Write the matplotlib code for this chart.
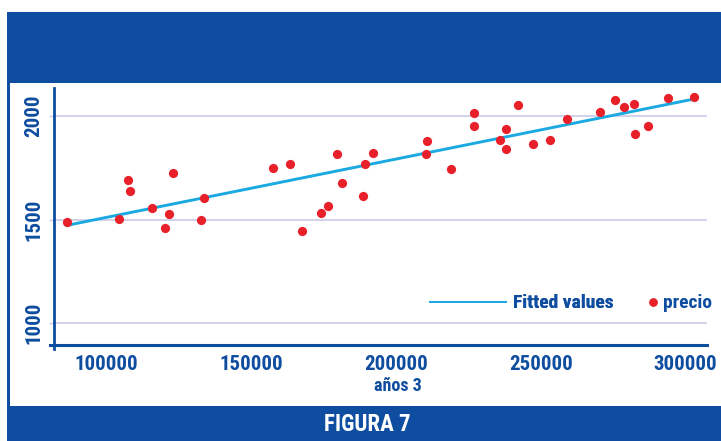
import matplotlib
matplotlib.use('Agg')
import matplotlib.pyplot as plt
from matplotlib.lines import Line2D
from matplotlib.patches import Rectangle

# scatter data
anos3 = [86250, 104420, 107530, 108220, 115720, 121590, 120310, 122970, 132540, 133570,
         157510, 163380, 167530, 173990, 176510, 179720, 181240, 188490, 189290, 191950,
         210600, 210460, 219100, 226830, 226830, 235920, 237890, 238090, 242240, 247210,
         253290, 259160, 270460, 275740, 278640, 282200, 282550, 287040, 294050, 303030]
precio = [1487, 1505, 1692, 1638, 1558, 1527, 1459, 1725, 1497, 1602,
          1747, 1771, 1447, 1530, 1564, 1817, 1679, 1613, 1771, 1824,
          1882, 1817, 1745, 2016, 1951, 1887, 1937, 1839, 2053, 1863,
          1883, 1986, 2019, 2078, 2046, 2061, 1913, 1951, 2090, 2093]
fit_x = [86250, 303030]
fit_y = [1472, 2083]
xticks = [100000, 150000, 200000, 250000, 300000]
yticks = [1000, 1500, 2000]

blue = '#0E4D9F'
red = '#E8202A'
cyan = '#1BA9E1'
grid = '#C9CBE6'
plt.rcParams['font.family'] = ['Roboto Condensed', 'Liberation Sans', 'DejaVu Sans']
plt.rcParams['font.weight'] = 'bold'

W, H = 721, 441
fig = plt.figure(figsize=(W / 100, H / 100), dpi=100)

def px(x0, y0, x1, y1):
    return (x0 / W, 1 - y1 / H, (x1 - x0) / W, (y1 - y0) / H)

# frame bands
for x0, y0, x1, y1 in [(7, 12, 721, 83), (7, 406, 721, 441), (7, 12, 10, 441)]:
    l, b, w, h = px(x0, y0, x1, y1)
    fig.patches.append(Rectangle((l, b), w, h, transform=fig.transFigure,
                                 color=blue, lw=0, zorder=0))
fig.text(367.5 / W, 1 - 424.5 / H, 'FIGURA 7', color='white', fontsize=16.5,
         fontweight='bold', ha='center', va='center')

ax = fig.add_axes(px(54.5, 88, 707, 345))
ax.set_xlim(82040, 307430)
ax.set_ylim(894, 2136)
for s in ax.spines.values():
    s.set_visible(False)
ax.add_line(Line2D([0, 0], [-0.016, 1], transform=ax.transAxes, color=blue, lw=2, clip_on=False))
ax.add_line(Line2D([-0.007, 1], [0, 0], transform=ax.transAxes, color=blue, lw=2.2, clip_on=False))

ax.set_xticks(xticks)
ax.set_yticks(yticks)
ax.set_xticklabels([str(v) for v in xticks])
ax.set_yticklabels([str(v) for v in yticks], rotation=90, va='center')
ax.tick_params(axis='x', length=0, pad=7.5, labelsize=15, labelcolor=blue)
ax.tick_params(axis='y', length=3.6, width=1, color=grid, pad=4.5, labelsize=15, labelcolor=blue)
ax.yaxis.grid(True, color=grid, lw=1.2)
ax.set_axisbelow(True)

ax.plot(fit_x, fit_y, color=cyan, lw=2.1, zorder=2)
ax.scatter(anos3, precio, s=44, color=red, lw=0, zorder=3)

fig.text(397.5 / W, 1 - 386 / H, 'años 3', color=blue, fontsize=13,
         fontweight='bold', ha='center', va='center')

leg1 = fig.legend(handles=[Line2D([], [], color=cyan, lw=1.3)], labels=['Fitted values'],
                  loc='center left', bbox_to_anchor=(430 / W, 1 - 303.5 / H),
                  frameon=False, fontsize=14, labelcolor=blue, handlelength=3.9,
                  handletextpad=0.35, borderpad=0, borderaxespad=0)
leg2 = fig.legend(handles=[Line2D([], [], ls='', marker='o', ms=6.3, color=red, mew=0)],
                  labels=['precio'], loc='center left',
                  bbox_to_anchor=(645 / W, 1 - 303.5 / H), frameon=False, fontsize=14,
                  labelcolor=blue, handlelength=0.8, handletextpad=0.15,
                  borderpad=0, borderaxespad=0)
fig.add_artist(leg1)

fig.savefig('out.png', dpi=100)
